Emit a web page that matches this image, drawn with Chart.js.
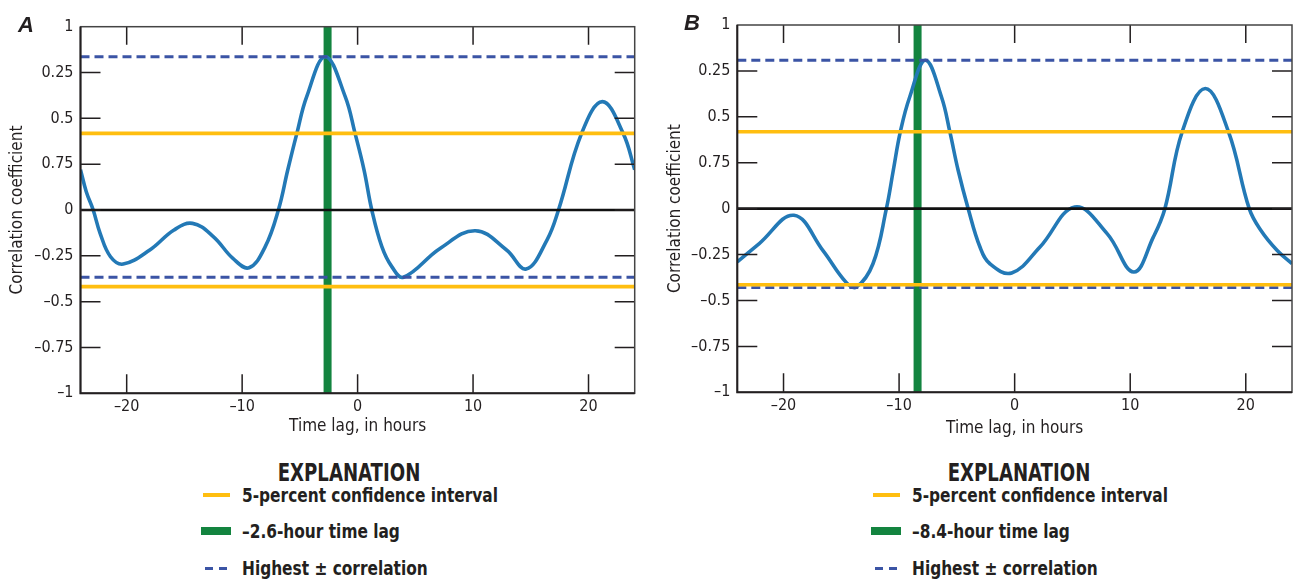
<!DOCTYPE html>
<html>
<head>
<meta charset="utf-8">
<script src="https://cdn.jsdelivr.net/npm/chart.js@4/dist/chart.umd.min.js"></script>
<style>
  body { margin: 0; background: #fff; }
  #page { position: relative; width: 1296px; height: 580px; overflow: hidden;
          font-family: 'Liberation Sans Narrow', 'DejaVu Sans Condensed', 'Arial Narrow', sans-serif; color: #231f20; }
  canvas { position: absolute; top: 0; }
  .tag { position: absolute; font: italic bold 22px 'Liberation Sans', Arial, sans-serif; line-height: 22px; }
  .head { position: absolute; width: 200px; text-align: center; font-weight: bold; font-size: 24px; line-height: 26px;
          transform: scaleX(0.84); transform-origin: center; }
  .row { position: absolute; font-weight: bold; font-size: 19px; line-height: 22px; white-space: nowrap;
         transform: scaleX(0.9); transform-origin: left; }
  .sw { position: absolute; }
</style>
</head>
<body>
<div id="page">
  <canvas id="chartA" width="648" height="440" style="left:0"></canvas>
  <canvas id="chartB" width="648" height="440" style="left:648px"></canvas>
  <div class="tag" style="left:18px;top:14px">A</div>
  <div class="tag" style="left:684px;top:12px">B</div>
  <div id="legA"></div>
  <div id="legB"></div>
</div>
<script>
// time lag (hours) and correlation coefficient, panel A
const lagA  = [-24, -23.5, -22.9, -22.3, -21.4, -20.3, -18.0, -15.9, -14.3, -12.5, -10.8, -9.4, -8.0, -6.86, -6.05, -5.26, -4.4, -2.79, -1.08, -0.22, 0.56, 1.23, 2.1, 2.96, 3.97, 7.14, 10.2, 12.9, 14.6, 16.4, 17.4, 19.4, 21.2, 23.0, 24];
const corrA = [0.22, 0.10, 0, -0.127, -0.255, -0.295, -0.218, -0.109, -0.073, -0.145, -0.264, -0.315, -0.2, 0, 0.218, 0.418, 0.62, 0.836, 0.62, 0.418, 0.218, 0, -0.2, -0.309, -0.367, -0.21, -0.113, -0.218, -0.322, -0.164, 0, 0.418, 0.591, 0.418, 0.22];

// panel B
const lagB  = [-24, -22.1, -19.1, -16.6, -14.6, -13.7, -12.26, -11.1, -10.5, -9.89, -9.08, -7.72, -6.33, -5.61, -4.89, -4.02, -3.0, -2.14, -0.26, 2.19, 5.2, 8.0, 10.3, 12.0, 13.0, 14.5, 16.5, 18.5, 20.3, 21.3, 22.7, 24];
const corrB = [-0.29, -0.19, -0.036, -0.227, -0.40, -0.427, -0.3, 0, 0.209, 0.419, 0.608, 0.808, 0.608, 0.419, 0.209, 0, -0.209, -0.3, -0.35, -0.209, 0.009, -0.136, -0.345, -0.155, 0, 0.419, 0.654, 0.419, 0, -0.118, -0.227, -0.30];

// confidence interval, highest +/- correlation, time lag
const ciA = [0.418, -0.418];
const peakA = [0.836, -0.367];
const timeLagA = -2.6;

const ciB = [0.419, -0.414];
const peakB = [0.808, -0.430];
const timeLagB = -8.4;

const xTicks = [-20, -10, 0, 10, 20];
const yTicks = [1, 0.75, 0.5, 0.25, 0, -0.25, -0.5, -0.75, -1];
const yTickLabels = ['1', '0.25', '0.5', '0.75', '0', '–0.25', '–0.5', '–0.75', '–1'];

const legendLabels = ['5-percent confidence interval', 'hour time lag', 'Highest ± correlation'];

const ink = '#231f20';
const narrow = "'Liberation Sans Narrow', 'DejaVu Sans Condensed', 'Arial Narrow', sans-serif";
Chart.defaults.font.family = narrow;
Chart.defaults.color = ink;

const dash = s => '–' + String(Math.abs(s));

// box around the plot with inward tick marks
const frame = {
  id: 'frame',
  afterDatasetsDraw(chart) {
    const {ctx, chartArea: a, scales: {x, y}} = chart;
    ctx.save();
    ctx.strokeStyle = ink;
    ctx.lineWidth = 1.5;
    ctx.beginPath();
    xTicks.forEach(v => {
      const px = x.getPixelForValue(v);
      ctx.moveTo(px, a.bottom); ctx.lineTo(px, a.bottom - 19);
      ctx.moveTo(px, a.top); ctx.lineTo(px, a.top + 18);
    });
    yTicks.forEach(v => {
      if (Math.abs(v) === 1) return;
      const py = y.getPixelForValue(v);
      ctx.moveTo(a.left, py); ctx.lineTo(a.left + 20, py);
      ctx.moveTo(a.right, py); ctx.lineTo(a.right - 20, py);
    });
    ctx.stroke();
    ctx.strokeStyle = '#444';
    ctx.strokeRect(a.left, a.top, a.right - a.left, a.bottom - a.top);
    ctx.strokeStyle = ink;
    ctx.lineWidth = 2;
    ctx.beginPath();
    ctx.moveTo(a.left, a.top); ctx.lineTo(a.left, a.bottom); ctx.lineTo(a.right, a.bottom);
    ctx.stroke();
    ctx.restore();
  }
};

function hline(v, color, width, dashPattern) {
  return {
    data: [{x: -24, y: v}, {x: 24, y: v}],
    borderColor: color, borderWidth: width, borderDash: dashPattern || [],
    pointRadius: 0, borderCapStyle: 'butt'
  };
}

function makeChart(id, lags, corr, ci, peak, lag, box) {
  const datasets = [
    hline(0, '#111', 2.6),
    hline(ci[0], '#ffbe10', 3.6),
    hline(ci[1], '#ffbe10', 3.6),
    hline(peak[0], '#3b54a5', 2.8, [9, 5]),
    hline(peak[1], '#3b54a5', 2.8, [9, 5]),
    {
      data: lags.map((t, i) => ({x: t, y: corr[i]})),
      borderColor: '#2379b6', borderWidth: 3.6, pointRadius: 0,
      tension: 0.4
    },
    {
      data: [{x: lag, y: -1}, {x: lag, y: 1}],
      borderColor: '#13843f', borderWidth: 8, pointRadius: 0, borderCapStyle: 'butt'
    }
  ];
  return new Chart(document.getElementById(id), {
    type: 'line',
    data: {datasets},
    plugins: [frame],
    options: {
      responsive: false,
      animation: false,
      layout: {padding: {left: 0, top: box.top, right: box.right, bottom: 0}},
      plugins: {legend: {display: false}, tooltip: {enabled: false}},
      scales: {
        x: {
          type: 'linear', min: -24, max: 24,
          afterBuildTicks: s => { s.ticks = xTicks.map(v => ({value: v})); },
          afterFit: s => { s.height = box.xh; },
          grid: {display: false, drawTicks: false},
          border: {display: false},
          ticks: {padding: 4, font: {size: 16}, color: ink,
                  callback: v => (v < 0 ? dash(v) : String(v))},
          title: {display: true, text: 'Time lag, in hours', font: {size: 17},
                  color: ink, padding: {top: 0, bottom: box.xt}}
        },
        y: {
          type: 'linear', min: -1, max: 1,
          afterBuildTicks: s => { s.ticks = yTicks.map(v => ({value: v})); },
          afterFit: s => { s.width = box.yw; },
          grid: {display: false, drawTicks: false},
          border: {display: false},
          ticks: {padding: 7, font: {size: 16}, color: ink,
                  callback: v => yTickLabels[yTicks.indexOf(v)]},
          title: {display: true, text: 'Correlation coefficient', font: {size: 17},
                  color: ink, padding: {top: box.yt, bottom: 0}}
        }
      }
    }
  });
}

makeChart('chartA', lagA, corrA, ciA, peakA, timeLagA,
  {top: 26.7, right: 13.3, xh: 46.7, yw: 80.5, xt: 3, yt: 7});
makeChart('chartB', lagB, corrB, ciB, peakB, timeLagB,
  {top: 25, right: 4, xh: 47.7, yw: 89.3, xt: 1.5, yt: 17});

// explanation block under each panel
function legend(id, x0, lag) {
  const el = document.getElementById(id);
  const rows = [495, 531, 568];
  const texts = [legendLabels[0], dash(lag) + '-' + legendLabels[1], legendLabels[2]];
  let html = `<div class="head" style="left:${x0 + 46}px;top:${473 - 13}px">EXPLANATION</div>`;
  texts.forEach((t, i) => {
    html += `<div class="row" style="left:${x0 + 39}px;top:${rows[i] - 11}px">${t}</div>`;
  });
  html += `<div class="sw" style="left:${x0}px;top:${rows[0] - 2}px;width:27px;height:4px;background:#ffbe10"></div>`;
  html += `<div class="sw" style="left:${x0 - 2}px;top:${rows[1] - 4}px;width:30px;height:8px;background:#13843f"></div>`;
  html += `<div class="sw" style="left:${x0 + 2}px;top:${rows[2] - 1.5}px;width:8px;height:3px;background:#3b54a5"></div>`;
  html += `<div class="sw" style="left:${x0 + 16}px;top:${rows[2] - 1.5}px;width:8px;height:3px;background:#3b54a5"></div>`;
  el.innerHTML = html;
}
legend('legA', 203, timeLagA);
legend('legB', 873, timeLagB);
</script>
</body>
</html>
